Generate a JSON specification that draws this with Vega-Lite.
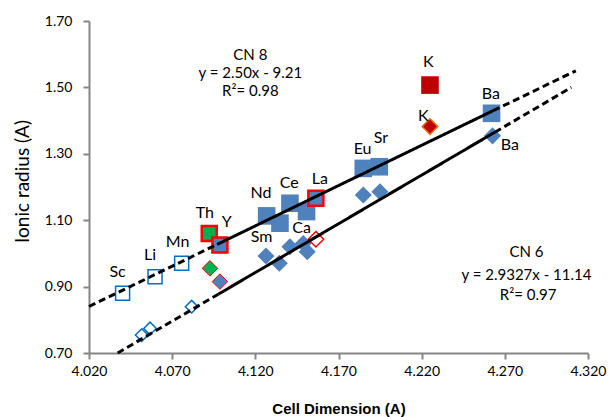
{
  "$schema": "https://vega.github.io/schema/vega-lite/v6.json",
  "width": 499,
  "height": 332,
  "autosize": {"type": "none"},
  "padding": {"left": 89, "top": 21, "right": 22, "bottom": 64},
  "background": "white",
  "config": {
    "view": {"stroke": null},
    "axis": {
      "grid": false,
      "domainColor": "#868686",
      "domainWidth": 2,
      "tickColor": "#868686",
      "tickWidth": 2,
      "tickSize": 6,
      "labelFont": "Lato",
      "labelFontSize": 14,
      "labelColor": "#000000",
      "titleColor": "#000000",
      "labelFlush": false,
      "labelOverlap": false
    }
  },
  "datasets": {
    "points": [
      {"el": "Sc", "cn": 8, "type": "hyp", "x": 4.0402, "y": 0.880},
      {"el": "Li", "cn": 8, "type": "hyp", "x": 4.0597, "y": 0.930},
      {"el": "Mn", "cn": 8, "type": "hyp", "x": 4.0757, "y": 0.970},
      {"el": "Th", "cn": 8, "type": "th", "x": 4.0923, "y": 1.060},
      {"el": "Y", "cn": 8, "type": "ref", "x": 4.0987, "y": 1.025},
      {"el": "Nd", "cn": 8, "type": "main", "x": 4.1268, "y": 1.113},
      {"el": "", "cn": 8, "type": "main", "x": 4.1348, "y": 1.091},
      {"el": "Ce", "cn": 8, "type": "main", "x": 4.1408, "y": 1.151},
      {"el": "", "cn": 8, "type": "main", "x": 4.1508, "y": 1.126},
      {"el": "La", "cn": 8, "type": "ref", "x": 4.1564, "y": 1.166},
      {"el": "Eu", "cn": 8, "type": "main", "x": 4.1849, "y": 1.256},
      {"el": "Sr", "cn": 8, "type": "main", "x": 4.1945, "y": 1.261},
      {"el": "K", "cn": 8, "type": "alk", "x": 4.225, "y": 1.507},
      {"el": "Ba", "cn": 8, "type": "main", "x": 4.262, "y": 1.422},
      {"el": "Sc", "cn": 6, "type": "hyp", "x": 4.0517, "y": 0.754},
      {"el": "Li", "cn": 6, "type": "hyp", "x": 4.0567, "y": 0.774},
      {"el": "Mn", "cn": 6, "type": "hyp", "x": 4.0817, "y": 0.8395},
      {"el": "Th", "cn": 6, "type": "th", "x": 4.0927, "y": 0.955},
      {"el": "Y", "cn": 6, "type": "ref", "x": 4.0987, "y": 0.915},
      {"el": "Sm", "cn": 6, "type": "main", "x": 4.1264, "y": 0.992},
      {"el": "", "cn": 6, "type": "main", "x": 4.1344, "y": 0.970},
      {"el": "", "cn": 6, "type": "main", "x": 4.1408, "y": 1.020},
      {"el": "", "cn": 6, "type": "main", "x": 4.1488, "y": 1.030},
      {"el": "Ca", "cn": 6, "type": "main", "x": 4.1512, "y": 1.005},
      {"el": "La", "cn": 6, "type": "refopen", "x": 4.1564, "y": 1.0425},
      {"el": "Eu", "cn": 6, "type": "main", "x": 4.1849, "y": 1.176},
      {"el": "Sr", "cn": 6, "type": "main", "x": 4.1949, "y": 1.186},
      {"el": "K", "cn": 6, "type": "alk", "x": 4.225, "y": 1.382},
      {"el": "Ba", "cn": 6, "type": "main", "x": 4.2626, "y": 1.354}
    ],
    "lines": [
      {"seg": "CN8 low", "part": "extrapolated", "x": 4.020, "y": 0.840},
      {"seg": "CN8 low", "part": "extrapolated", "x": 4.097, "y": 1.027},
      {"seg": "CN8 fit", "part": "fit", "x": 4.097, "y": 1.027},
      {"seg": "CN8 fit", "part": "fit", "x": 4.263, "y": 1.430},
      {"seg": "CN8 high", "part": "extrapolated", "x": 4.263, "y": 1.430},
      {"seg": "CN8 high", "part": "extrapolated", "x": 4.3127, "y": 1.550},
      {"seg": "CN6 low", "part": "extrapolated", "x": 4.0372, "y": 0.700},
      {"seg": "CN6 low", "part": "extrapolated", "x": 4.0977, "y": 0.877},
      {"seg": "CN6 fit", "part": "fit", "x": 4.0977, "y": 0.877},
      {"seg": "CN6 fit", "part": "fit", "x": 4.264, "y": 1.365},
      {"seg": "CN6 high", "part": "extrapolated", "x": 4.264, "y": 1.365},
      {"seg": "CN6 high", "part": "extrapolated", "x": 4.310, "y": 1.500}
    ],
    "labels": [
      {"el": "Sc", "x": 4.0372, "y": 0.945},
      {"el": "Li", "x": 4.0567, "y": 0.995},
      {"el": "Mn", "x": 4.0733, "y": 1.035},
      {"el": "Th", "x": 4.0897, "y": 1.123},
      {"el": "Y", "x": 4.1028, "y": 1.094},
      {"el": "Sm", "x": 4.1238, "y": 1.050},
      {"el": "Nd", "x": 4.1234, "y": 1.181},
      {"el": "Ce", "x": 4.1404, "y": 1.213},
      {"el": "La", "x": 4.1588, "y": 1.223},
      {"el": "Ca", "x": 4.1478, "y": 1.077},
      {"el": "Eu", "x": 4.1845, "y": 1.3135},
      {"el": "Sr", "x": 4.1955, "y": 1.3485},
      {"el": "K", "x": 4.221, "y": 1.414},
      {"el": "K", "x": 4.224, "y": 1.577},
      {"el": "Ba", "x": 4.2616, "y": 1.479},
      {"el": "Ba", "x": 4.273, "y": 1.3265}
    ],
    "notes": [
      {"text": "CN 8", "x": 4.117, "y": 1.5976},
      {"text": "y = 2.50x - 9.21", "x": 4.117, "y": 1.5425},
      {"text": "R²= 0.98", "x": 4.117, "y": 1.489},
      {"text": "CN 6", "x": 4.283, "y": 1.005},
      {"text": "y = 2.9327x - 11.14", "x": 4.283, "y": 0.935},
      {"text": "R²= 0.97", "x": 4.284, "y": 0.875}
    ]
  },
  "encoding": {
    "x": {
      "field": "x", "type": "quantitative",
      "scale": {"domain": [4.02, 4.32], "nice": false, "zero": false},
      "axis": {
        "values": [4.02, 4.07, 4.12, 4.17, 4.22, 4.27, 4.32],
        "format": ".3f",
        "labelPadding": 5,
        "title": "Cell Dimension (A)",
        "titleFont": "Liberation Sans",
        "titleFontWeight": "bold",
        "titleFontSize": 15,
        "titleY": 55,
        "titleBaseline": "middle"
      }
    },
    "y": {
      "field": "y", "type": "quantitative",
      "scale": {"domain": [0.7, 1.7], "nice": false, "zero": false},
      "axis": {
        "values": [0.7, 0.9, 1.1, 1.3, 1.5, 1.7],
        "format": ".2f",
        "labelPadding": 11,
        "title": "Ionic radius (A)",
        "titleFont": "Lato",
        "titleFontWeight": "normal",
        "titleFontSize": 19,
        "titleX": -67,
        "titleY": 160,
        "titleAngle": -90,
        "titleAlign": "center",
        "titleBaseline": "middle"
      }
    }
  },
  "layer": [
    {
      "data": {"name": "points"},
      "transform": [{"filter": "datum.cn == 8 && datum.type == 'main'"}],
      "mark": {"type": "point", "shape": "square", "filled": true, "size": 310, "fill": "#4F81BD", "opacity": 1, "strokeWidth": 0}
    },
    {
      "data": {"name": "points"},
      "transform": [{"filter": "datum.cn == 8 && datum.type == 'alk'"}],
      "mark": {"type": "point", "shape": "square", "filled": true, "size": 310, "fill": "#C00000", "opacity": 1, "strokeWidth": 0}
    },
    {
      "data": {"name": "points"},
      "transform": [{"filter": "datum.cn == 8 && datum.type == 'hyp'"}],
      "mark": {"type": "point", "shape": "square", "size": 196, "fill": "#FFFFFF", "fillOpacity": 1, "stroke": "#0070C0", "strokeWidth": 1.5, "opacity": 1}
    },
    {
      "data": {"name": "points"},
      "transform": [{"filter": "datum.cn == 8 && datum.type == 'th'"}],
      "mark": {"type": "point", "shape": "square", "size": 225, "fill": "#00B050", "fillOpacity": 1, "stroke": "#FF0000", "strokeWidth": 2.5, "opacity": 1}
    },
    {
      "data": {"name": "points"},
      "transform": [{"filter": "datum.cn == 8 && datum.type == 'ref'"}],
      "mark": {"type": "point", "shape": "square", "size": 225, "fill": "#4F81BD", "fillOpacity": 1, "stroke": "#FF0000", "strokeWidth": 2.5, "opacity": 1}
    },
    {
      "data": {"name": "points"},
      "transform": [{"filter": "datum.cn == 6 && datum.type == 'main'"}],
      "mark": {"type": "point", "shape": "diamond", "filled": true, "size": 290, "fill": "#4F81BD", "opacity": 1, "strokeWidth": 0}
    },
    {
      "data": {"name": "points"},
      "transform": [{"filter": "datum.cn == 6 && datum.type == 'alk'"}],
      "mark": {"type": "point", "shape": "diamond", "size": 240, "fill": "#C00000", "fillOpacity": 1, "stroke": "#E46C0A", "strokeWidth": 1.5, "opacity": 1}
    },
    {
      "data": {"name": "points"},
      "transform": [{"filter": "datum.cn == 6 && datum.type == 'hyp'"}],
      "mark": {"type": "point", "shape": "diamond", "size": 160, "fill": "#FFFFFF", "fillOpacity": 1, "stroke": "#0070C0", "strokeWidth": 1.5, "opacity": 1}
    },
    {
      "data": {"name": "points"},
      "transform": [{"filter": "datum.cn == 6 && datum.type == 'th'"}],
      "mark": {"type": "point", "shape": "diamond", "size": 240, "fill": "#00B050", "fillOpacity": 1, "stroke": "#FF0000", "strokeWidth": 1, "opacity": 1}
    },
    {
      "data": {"name": "points"},
      "transform": [{"filter": "datum.cn == 6 && datum.type == 'ref'"}],
      "mark": {"type": "point", "shape": "diamond", "size": 240, "fill": "#4F81BD", "fillOpacity": 1, "stroke": "#FF0000", "strokeWidth": 1, "opacity": 1}
    },
    {
      "data": {"name": "points"},
      "transform": [{"filter": "datum.cn == 6 && datum.type == 'refopen'"}],
      "mark": {"type": "point", "shape": "diamond", "size": 240, "fill": "#FFFFFF", "fillOpacity": 1, "stroke": "#FF0000", "strokeWidth": 1.5, "opacity": 1}
    },
    {
      "data": {"name": "lines"},
      "mark": {"type": "line", "color": "#000000", "strokeWidth": 3},
      "encoding": {
        "detail": {"field": "seg", "type": "nominal"},
        "strokeDash": {
          "field": "part", "type": "nominal",
          "scale": {"domain": ["fit", "extrapolated"], "range": [[1, 0], [7, 4]]},
          "legend": null
        }
      }
    },
    {
      "data": {"name": "labels"},
      "mark": {"type": "text", "font": "Lato", "fontSize": 16, "color": "#000000", "baseline": "middle", "align": "center"},
      "encoding": {"text": {"field": "el"}}
    },
    {
      "data": {"name": "notes"},
      "mark": {"type": "text", "font": "Lato", "fontSize": 15, "color": "#000000", "baseline": "middle", "align": "center"},
      "encoding": {"text": {"field": "text"}}
    }
  ]
}
